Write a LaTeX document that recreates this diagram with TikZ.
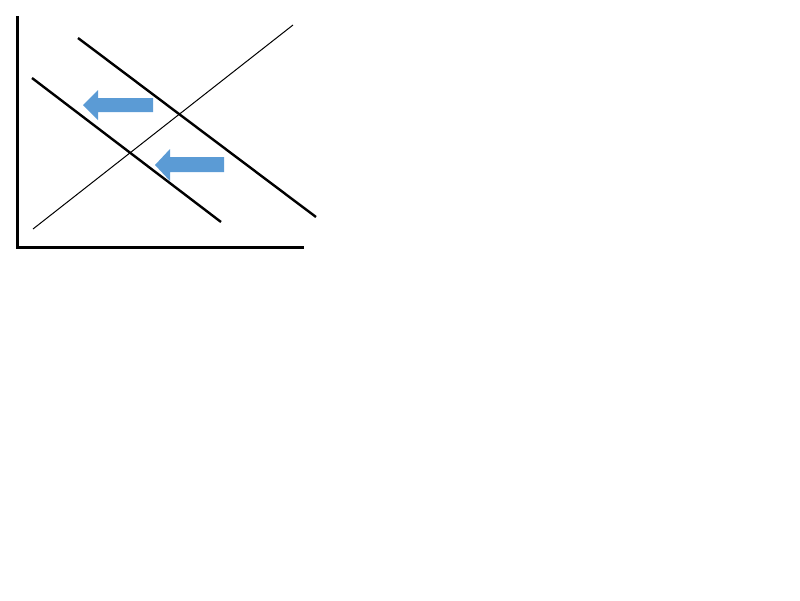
\documentclass[tikz,border=0pt]{standalone}
\usepackage{xcolor}
\usetikzlibrary{calc}
\definecolor{shiftblue}{HTML}{5B9BD5}
\begin{document}
\begin{tikzpicture}[x=1pt,y=-1pt,
  axis/.style={line width=3pt},
  curve/.style={line width=2.4pt},
  supply/.style={line width=1pt},
  shiftarrow/.style={fill=shiftblue}]
\useasboundingbox (0,0) rectangle (800,600);
% axes
\coordinate (origin) at (17,247);
\draw[axis] (17,16) -- (origin) -- (304,247);
% upward sloping line
\draw[supply] (33,229) -- (293,25);
% demand curves
\draw[curve] (78,38) -- (316,217);
\draw[curve] (32,78) -- (221,222);
% shift arrows
\fill[shiftarrow] (83,105) -- (98,90) -- (98,98) -- (153,98) -- (153,112) -- (98,112) -- (98,120) -- cycle;
\fill[shiftarrow] (155,165) -- (170,149) -- (170,157) -- (224,157) -- (224,172) -- (170,172) -- (170,181) -- cycle;
\end{tikzpicture}
\end{document}
